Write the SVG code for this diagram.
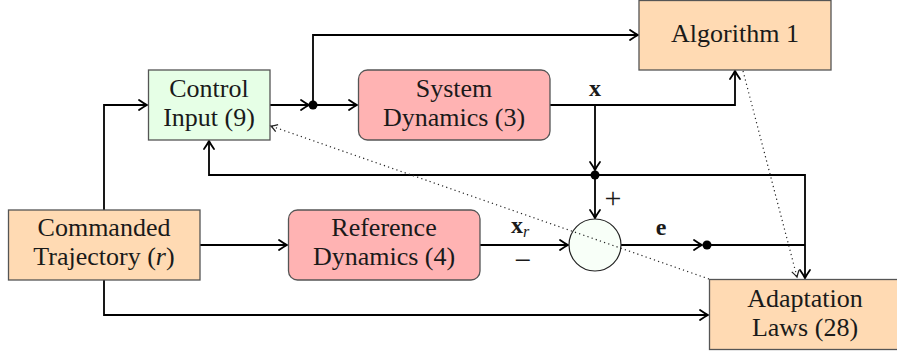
<svg xmlns="http://www.w3.org/2000/svg" width="897" height="361" viewBox="0 0 897 361">
<defs>
<marker id="arr" markerUnits="userSpaceOnUse" markerWidth="14" markerHeight="14" viewBox="-10 -7 12 14" refX="0" refY="0" orient="auto">
<path d="M -8 -5 Q -3 -1.5 0 0 Q -3 1.5 -8 5" fill="none" stroke="#000" stroke-width="1.8" stroke-linecap="round"/>
</marker>
<marker id="arrs" markerUnits="userSpaceOnUse" markerWidth="10" markerHeight="10" viewBox="-6 -4 8 8" refX="0" refY="0" orient="auto">
<path d="M -5 -3 Q -2 -1 0 0 Q -2 1 -5 3" fill="none" stroke="#222" stroke-width="1"/>
</marker>
</defs>
<style>
.box{stroke:#555;stroke-width:1.3}
.t{font-size:26px;text-anchor:middle;fill:#1a1a1a}
.l{fill:#1a1a1a}
.c{fill:none;stroke:#000;stroke-width:1.8}
.a{marker-end:url(#arr)}
.dot{fill:#000}
.d{fill:none;stroke:#222;stroke-width:1.2;stroke-dasharray:1.2 3.2}
</style>
<g id="connectors">
<path class="c a" d="M104 210 V105 H147"/>
<path class="c a" d="M270 105 H309"/>
<path class="c a" d="M313 105 H357"/>
<path class="c a" d="M313 105 V35 H638"/>
<path class="c a" d="M550 105 H735 V71"/>
<path class="c a" d="M595 105 V170"/>
<path class="c a" d="M595 175 H209 V141"/>
<path class="c a" d="M595 175 H805 V278"/>
<path class="c a" d="M595 175 V218"/>
<path class="c a" d="M200 245 H287"/>
<path class="c a" d="M480 245 H568"/>
<path class="c a" d="M621 245 H702"/>
<path class="c" d="M707 245 H805"/>
<path class="c a" d="M104 280 V315 H708"/>
<circle class="dot" cx="313" cy="105" r="4.5"/>
<circle class="dot" cx="595" cy="175" r="4.5"/>
<circle class="dot" cx="707" cy="245" r="4.5"/>
</g>
<g id="control-input">
<rect class="box" x="148.5" y="70" width="121.5" height="70" fill="#e6ffe6"/>
<text class="t" x="209" y="97" font-family="Liberation Serif">Control</text>
<text class="t" x="209" y="126" font-family="Liberation Serif">Input (9)</text>
</g>
<g id="system-dynamics">
<rect class="box" x="358.5" y="70" width="191.5" height="70" rx="9" fill="#ffb3b3"/>
<text class="t" x="454" y="97" font-family="Liberation Serif">System</text>
<text class="t" x="454" y="126" font-family="Liberation Serif">Dynamics (3)</text>
</g>
<g id="algorithm-1">
<rect class="box" x="639" y="0.5" width="192" height="69.5" fill="#ffdab3"/>
<text class="t" x="735" y="42" font-family="Liberation Serif">Algorithm 1</text>
</g>
<g id="commanded-trajectory">
<rect class="box" x="8.5" y="210" width="191.5" height="70" fill="#ffdab3"/>
<text class="t" x="104" y="236" font-family="Liberation Serif">Commanded</text>
<text class="t" x="104" y="265" font-family="Liberation Serif">Trajectory (<tspan font-style="italic">r</tspan>)</text>
</g>
<g id="reference-dynamics">
<rect class="box" x="288.5" y="210" width="191.5" height="70" rx="9" fill="#ffb3b3"/>
<text class="t" x="384" y="236" font-family="Liberation Serif">Reference</text>
<text class="t" x="384" y="265" font-family="Liberation Serif">Dynamics (4)</text>
</g>
<g id="sum">
<circle cx="595" cy="245" r="26" fill="#f8fff8" stroke="#222" stroke-width="1.2"/>
</g>
<g id="adaptation-laws">
<rect class="box" x="709.5" y="279.5" width="200" height="70" fill="#ffdab3"/>
<text class="t" x="805" y="307" font-family="Liberation Serif">Adaptation</text>
<text class="t" x="805" y="336" font-family="Liberation Serif">Laws (28)</text>
</g>
<g id="dotted-connectors">
<path class="d" d="M709 279 L271 126" marker-end="url(#arrs)"/>
<path class="d" d="M743 71 L797 277" marker-end="url(#arrs)"/>
</g>
<g id="labels">
<text class="l" x="595" y="96" font-size="24" font-weight="bold" text-anchor="middle" font-family="Liberation Serif">x</text>
<text class="l" x="613" y="208" font-size="30" text-anchor="middle" font-family="Liberation Serif">+</text>
<text class="l" x="511" y="233" font-size="24" font-weight="bold" font-family="Liberation Serif">x<tspan font-size="16" font-weight="normal" font-style="italic" dy="4">r</tspan></text>
<text class="l" x="523" y="270" font-size="30" text-anchor="middle" font-family="Liberation Serif">−</text>
<text class="l" x="661" y="235" font-size="24" font-weight="bold" text-anchor="middle" font-family="Liberation Serif">e</text>
</g>
</svg>
